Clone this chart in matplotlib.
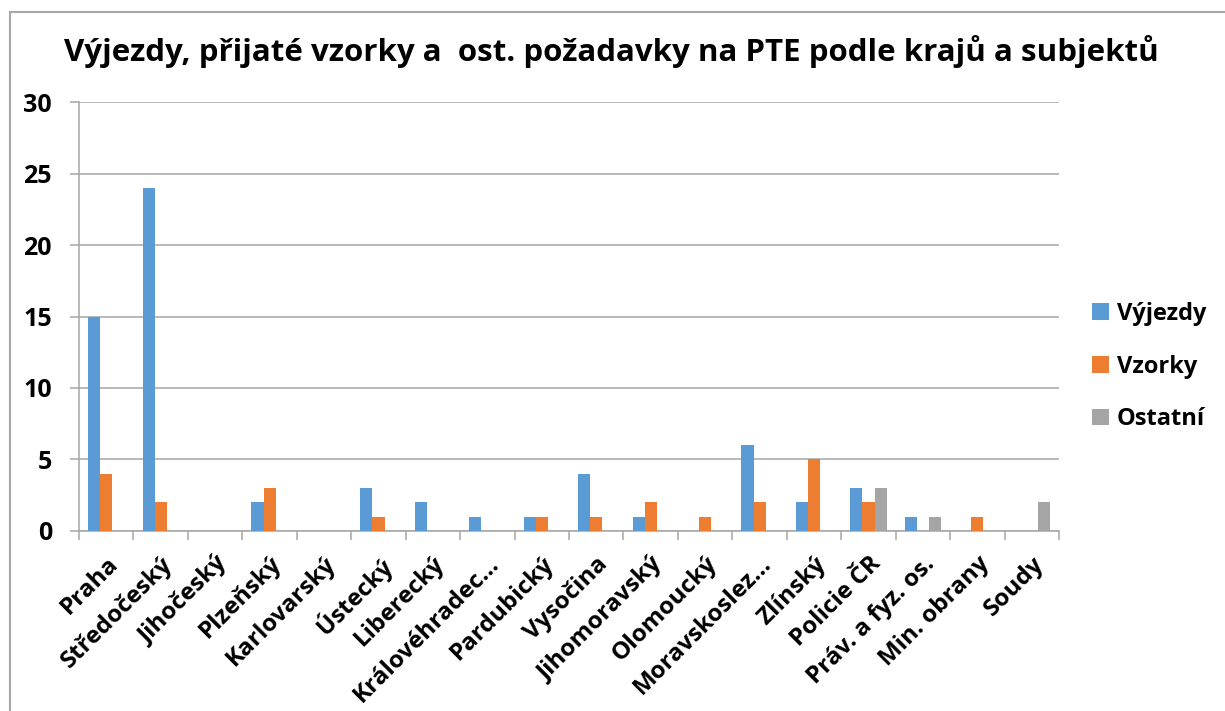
import numpy as np
import matplotlib
matplotlib.use("Agg")
import matplotlib.pyplot as plt
from matplotlib.patches import Rectangle

# ── data ──────────────────────────────────────────────────────────────────────
categories = ["Praha", "Středočeský", "Jihočeský", "Plzeňský", "Karlovarský",
              "Ústecký", "Liberecký", "Královéhradec…", "Pardubický", "Vysočina",
              "Jihomoravský", "Olomoucký", "Moravskoslez…", "Zlínský",
              "Policie ČR", "Práv. a fyz. os.", "Min. obrany", "Soudy"]
vyjezdy = [15, 24, 0, 2, 0, 3, 2, 1, 1, 4, 1, 0, 6, 2, 3, 1, 0, 0]
vzorky = [4, 2, 0, 3, 0, 1, 0, 0, 1, 1, 2, 1, 2, 5, 2, 0, 1, 0]
ostatni = [0, 0, 0, 0, 0, 0, 0, 0, 0, 0, 0, 0, 0, 0, 3, 1, 0, 2]
series_names = ["Výjezdy", "Vzorky", "Ostatní"]
yticks = [0, 5, 10, 15, 20, 25, 30]

COLORS = ["#5B9BD5", "#ED7D31", "#A5A5A5"]
GRID = "#A6A6A6"
FONT = "Open Sans"

# ── plot ──────────────────────────────────────────────────────────────────────
fig = plt.figure(figsize=(12.25, 7.11), dpi=100)
ax = fig.add_axes([0.0645, 0.2532, 0.8000, 0.6033])

x = np.arange(len(categories))
w = 1 / 4.5  # Excel gap width 150 %
for k, (vals, name) in enumerate(zip([vyjezdy, vzorky, ostatni], series_names)):
    ax.bar(x + (k - 1) * w, vals, width=w, color=COLORS[k], label=name,
           edgecolor="none", zorder=3)

ax.set_xlim(-0.5, len(categories) - 0.5)
ax.set_ylim(0, 30)
ax.set_yticks(yticks)
ax.set_yticklabels([str(v) for v in yticks], fontsize=18, fontweight="bold",
                   family=FONT)
ax.yaxis.grid(True, color=GRID, linewidth=1.1, zorder=0)
ax.tick_params(axis="y", length=6.5, color=GRID, width=1.1, pad=13)

ax.set_xticks(x)
ax.set_xticklabels(categories, rotation=45, ha="right", va="top",
                   rotation_mode="anchor", fontsize=17.5, fontweight="bold",
                   family=FONT)
ax.tick_params(axis="x", which="major", length=0, pad=15)
ax.set_xticks(np.arange(len(categories) + 1) - 0.5, minor=True)
ax.tick_params(axis="x", which="minor", length=6.5, color=GRID, width=1.1)

for s in ["top", "right"]:
    ax.spines[s].set_visible(False)
for s in ["bottom", "left"]:
    ax.spines[s].set_color(GRID)
    ax.spines[s].set_linewidth(1.1)

fig.text(0.499, 0.928,
         "Výjezdy, přijaté vzorky a  ost. požadavky na PTE podle krajů a subjektů",
         ha="center", va="center", fontsize=22.5, fontweight="bold", family=FONT)

leg = fig.legend(loc="center left", bbox_to_anchor=(1092 / 1225, 0.4845),
                 frameon=False, borderpad=0, borderaxespad=0,
                 prop={"family": FONT, "weight": "bold", "size": 17},
                 handlelength=0.72, handleheight=0.72, handletextpad=0.34,
                 labelspacing=1.22)

# chart border
fig.add_artist(Rectangle((10 / 1225, -0.05), 1.2, 1 - 12 / 711 + 0.05,
                         transform=fig.transFigure, fill=False,
                         edgecolor="#A6A6A6", linewidth=1.5))

fig.savefig("out.png", dpi=100, facecolor="white")
